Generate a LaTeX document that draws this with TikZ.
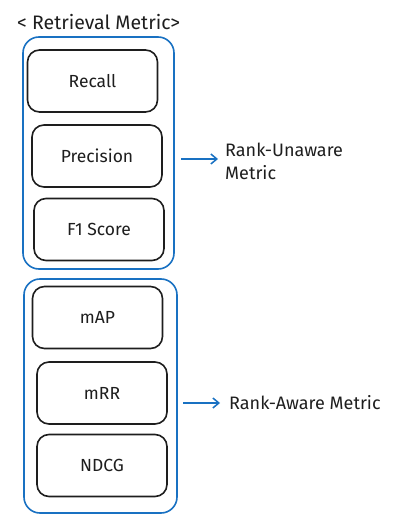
\documentclass[tikz,border=0pt]{standalone}
\definecolor{myblue}{RGB}{25,113,194}
\definecolor{myink}{RGB}{30,30,30}
\usepackage{fontspec}
\setmainfont{Fira Sans}
\usepackage{tikz}
\usetikzlibrary{arrows.meta, positioning, calc}
\tikzset{
  grp/.style={draw=myblue, rounded corners=16pt, line width=1.6pt,
              minimum width=#1, minimum height=234pt},
  mbox/.style={draw=myink, fill=white, rounded corners=12pt, line width=1.6pt,
               minimum width=130pt, minimum height=62pt, align=center,
               font=\fontsize{17.5}{20}\selectfont, text=myink},
  arr/.style={-{Straight Barb[length=6pt, width=10pt]}, draw=myblue, line width=1.5pt},
}
\begin{document}
\begin{tikzpicture}[x=1pt, y=-1pt,
        lbl/.style={anchor=west, align=left, text=myink, inner sep=0pt,
                    font=\fontsize{18}{23}\selectfont}]
      \useasboundingbox (0,0) rectangle (404,526);
      \node[lbl, font=\fontsize{19.5}{23}\selectfont] (title) at (17,22) {< Retrieval Metric>};
      % rank-unaware group
      \node[grp=151pt, minimum height=232pt] (grpU) at (98.5,153){};
      \node[mbox] (recall) at (92.5,81){Recall};
      \node[mbox] (prec) at (97,156){Precision};
      \node[mbox] (fone) at (99,229.5){F1 Score};
      % rank-aware group
      \node[grp=153pt] (grpA) at (100.5,396){};
      \node[mbox] (map) at (97.5,317.5){mAP};
      \node[mbox] (mrr) at (102,393){mRR};
      \node[mbox] (ndcg) at (102,465.5){NDCG};
      % labels and arrows
      \node[lbl] (lblU) at (225,161){Rank-Unaware\\Metric};
      \node[lbl] (lblA) at (229,403){Rank-Aware Metric};
      \coordinate (uStart) at (181,159);
      \coordinate (aStart) at (183,403);
      \draw[arr] (uStart) -- ([xshift=-7pt]lblU.west |- uStart);
      \draw[arr] (aStart) -- ([xshift=-9pt]lblA.west |- aStart);
    \end{tikzpicture}
\end{document}
